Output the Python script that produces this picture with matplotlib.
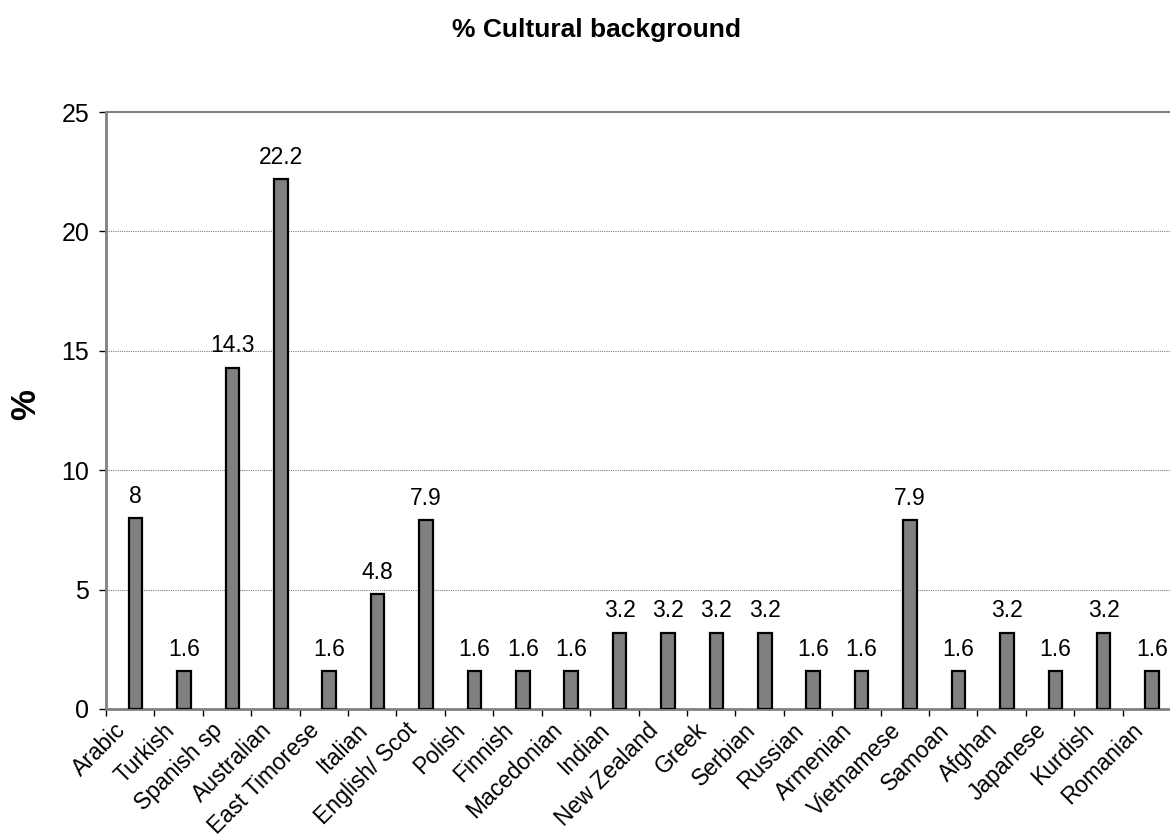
import matplotlib
matplotlib.use('Agg')
import matplotlib.pyplot as plt
import numpy as np

# cultural background categories and their percentages
groups = ['Arabic', 'Turkish', 'Spanish sp', 'Australian', 'East Timorese',
          'Italian', 'English/ Scot', 'Polish', 'Finnish', 'Macedonian',
          'Indian', 'New Zealand', 'Greek', 'Serbian', 'Russian', 'Armenian',
          'Vietnamese', 'Samoan', 'Afghan', 'Japanese', 'Kurdish', 'Romanian']
pct = [8, 1.6, 14.3, 22.2, 1.6, 4.8, 7.9, 1.6, 1.6, 1.6, 3.2, 3.2, 3.2, 3.2,
       1.6, 1.6, 7.9, 1.6, 3.2, 1.6, 3.2, 1.6]
pct_labels = ['8', '1.6', '14.3', '22.2', '1.6', '4.8', '7.9', '1.6', '1.6',
              '1.6', '3.2', '3.2', '3.2', '3.2', '1.6', '1.6', '7.9', '1.6',
              '3.2', '1.6', '3.2', '1.6']
yticks = [0, 5, 10, 15, 20, 25]

plt.rcParams['font.family'] = ['Liberation Sans', 'DejaVu Sans']

fig = plt.figure(figsize=(11.7, 8.39), dpi=100)
ax = fig.add_axes([106 / 1170, 1 - 709 / 839, 1065 / 1170, 597 / 839])

x = np.arange(len(groups))
xb = x + 0.11
ax.bar(xb, pct, width=0.28, color='#808080', edgecolor='black',
       linewidth=1.6, zorder=3)

for xi, v, lab in zip(xb, pct, pct_labels):
    ax.annotate(lab, (xi, v), xytext=(0, 11), textcoords='offset points',
                ha='center', va='baseline', fontsize=16.5, zorder=4)

ax.set_xlim(-0.5, len(groups) - 0.5)
ax.set_ylim(0, 25)

# tick marks on category boundaries, labels near category centres
ax.set_xticks(np.arange(len(groups)) - 0.5)
ax.set_xticklabels([])
ax.set_xticks(x - 0.06, minor=True)
ax.set_xticklabels(groups, minor=True, rotation=45, ha='right',
                   va='baseline', rotation_mode='anchor', fontsize=16.5)
ax.tick_params(axis='x', which='major', direction='out', length=5, width=1,
               colors='black')
ax.tick_params(axis='x', which='minor', length=0, pad=16)

ax.set_yticks(yticks)
ax.set_yticklabels([str(t) for t in yticks], fontsize=18)
ax.tick_params(axis='y', direction='out', length=5, width=1, pad=7)

for t in yticks[1:-1]:
    ax.axhline(t, color='#808080', linestyle=(0, (1, 1)), linewidth=0.8,
               zorder=1)

for s in ['left', 'bottom', 'top']:
    ax.spines[s].set_color('#808080')
ax.spines['left'].set_linewidth(2)
ax.spines['bottom'].set_linewidth(2)
ax.spines['top'].set_linewidth(1.5)
ax.spines['right'].set_visible(False)

fig.text(597 / 1170, 1 - 30 / 839, '% Cultural background', ha='center',
         va='center', fontsize=19, fontweight='bold')
fig.text(26 / 1170, 1 - 405 / 839, '%', rotation=90, ha='center',
         va='center', fontsize=25, fontweight='bold')

fig.savefig('out.png', dpi=100)
